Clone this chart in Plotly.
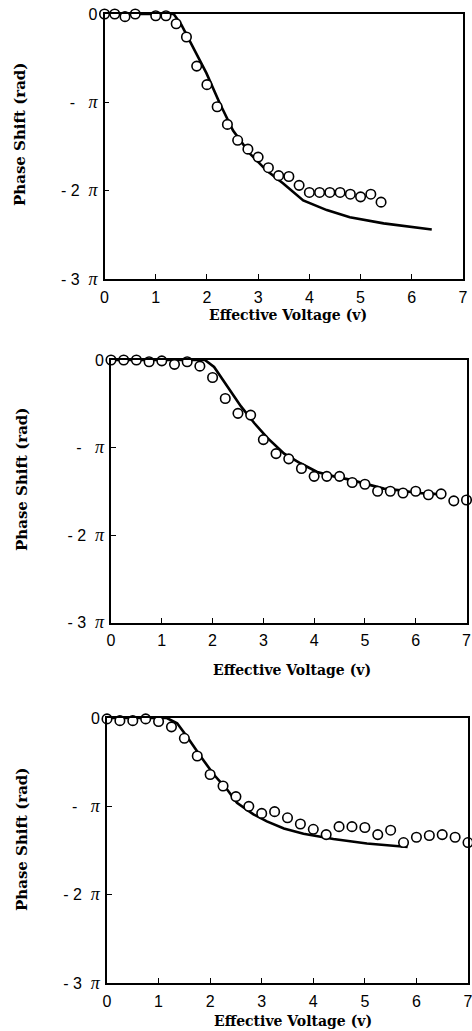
import plotly.graph_objects as go

# ---- data (phase shift in units of pi) ----
x1_pts = [0.0, 0.2, 0.4, 0.6, 0.8, 1.0, 1.2, 1.4, 1.6, 1.8, 2.0, 2.2, 2.4, 2.6,
          2.8, 3.0, 3.2, 3.4, 3.6, 3.8, 4.0, 4.2, 4.4, 4.6, 4.8, 5.0, 5.2, 5.4]
y1_pts = [0.0, 0.0, -0.03, 0.0, 0.01, -0.02, -0.02, -0.11, -0.26, -0.59, -0.80, -1.05, -1.25, -1.43,
          -1.53, -1.62, -1.74, -1.83, -1.84, -1.94, -2.02, -2.02, -2.02, -2.02, -2.04, -2.07, -2.04, -2.13]
x1_line = [0.0, 1.35, 1.5, 1.73, 1.99, 2.25, 2.51, 2.84, 3.16, 3.49, 3.88, 4.34, 4.79, 5.45, 6.39]
y1_line = [0.0, 0.0, -0.12, -0.37, -0.67, -1.01, -1.32, -1.58, -1.77, -1.92, -2.11, -2.22, -2.30, -2.37, -2.44]

x2_pts = [0.0, 0.25, 0.5, 0.75, 1.0, 1.25, 1.5, 1.75, 2.0, 2.25, 2.5, 2.75, 3.0, 3.25, 3.5,
          3.75, 4.0, 4.25, 4.5, 4.75, 5.0, 5.25, 5.5, 5.75, 6.0, 6.25, 6.5, 6.75, 7.0]
y2_pts = [0.0, 0.0, 0.0, -0.02, -0.01, -0.05, -0.02, -0.07, -0.20, -0.44, -0.61, -0.63, -0.91, -1.07, -1.13,
          -1.24, -1.33, -1.33, -1.33, -1.40, -1.42, -1.50, -1.50, -1.52, -1.50, -1.54, -1.53, -1.61, -1.60]
x2_line = [0.0, 1.85, 2.03, 2.29, 2.56, 2.82, 3.08, 3.41, 3.73, 4.06, 4.39, 4.72, 5.05, 5.37, 5.70, 6.03, 6.36, 6.55]
y2_line = [0.0, 0.0, -0.08, -0.30, -0.53, -0.72, -0.89, -1.07, -1.18, -1.28, -1.33, -1.37, -1.42, -1.47, -1.49, -1.52, -1.53, -1.54]

x3_pts = [0.0, 0.25, 0.5, 0.75, 1.0, 1.25, 1.5, 1.75, 2.0, 2.25, 2.5, 2.75, 3.0, 3.25, 3.5,
          3.75, 4.0, 4.25, 4.5, 4.75, 5.0, 5.25, 5.5, 5.75, 6.0, 6.25, 6.5, 6.75, 7.0]
y3_pts = [-0.01, -0.03, -0.03, -0.01, -0.04, -0.10, -0.23, -0.43, -0.64, -0.77, -0.89, -1.00, -1.08, -1.06, -1.13,
          -1.20, -1.26, -1.32, -1.23, -1.23, -1.24, -1.32, -1.27, -1.41, -1.35, -1.33, -1.32, -1.35, -1.41]
x3_line = [0.0, 1.16, 1.36, 1.55, 1.81, 2.07, 2.33, 2.52, 2.84, 3.10, 3.43, 3.81, 4.39, 5.04, 5.83]
y3_line = [0.0, 0.0, -0.06, -0.21, -0.43, -0.64, -0.81, -0.96, -1.09, -1.17, -1.25, -1.31, -1.37, -1.42, -1.46]

x_ticks = [0, 1, 2, 3, 4, 5, 6, 7]
y_ticks = [0, -1, -2, -3]
NB = "\u00a0"
PI = "<span style='font-family:Liberation Serif;font-size:18px'><i>π</i></span>"
y_ticktext = ["0", "-" + NB * 3 + PI, "-" + NB + "2" + NB * 2 + PI, "-" + NB + "3" + NB * 2 + PI]

x_title = "Effective Voltage (v)"
y_title = "Phase Shift (rad)"

W, H = 472, 1031
# pixel boxes (left, right, top, bottom)
boxes = [(104.5, 463, 14, 279), (111, 466.5, 360, 622.5), (107, 468, 718, 983)]
# title centres in pixels: (x-title x, x-title y, y-title x, y-title y)
title_pos = [(288, 315, 20, 135), (292, 670, 22, 480), (293, 1021, 22, 840)]
panels = [(x1_pts, y1_pts, x1_line, y1_line),
          (x2_pts, y2_pts, x2_line, y2_line),
          (x3_pts, y3_pts, x3_line, y3_line)]

fig = go.Figure()
tick_font = dict(family="Liberation Sans", size=16, color="black")
xtitle_font = dict(family="DejaVu Serif", size=14, color="black")
ytitle_font = dict(family="DejaVu Serif", size=15, color="black")

for i, ((xp, yp, xl, yl), (l, r, t, b), (txx, txy, tyx, tyy)) in enumerate(zip(panels, boxes, title_pos)):
    n = "" if i == 0 else str(i + 1)
    xa, ya = "x" + n, "y" + n
    fig.add_trace(go.Scatter(x=xl, y=yl, mode="lines", xaxis=xa, yaxis=ya,
                             line=dict(color="black", width=2.6), cliponaxis=False,
                             showlegend=False, hoverinfo="skip"))
    fig.add_trace(go.Scatter(x=xp, y=yp, mode="markers", xaxis=xa, yaxis=ya,
                             marker=dict(symbol="circle", size=9.5, color="white",
                                         line=dict(color="black", width=1.6)),
                             cliponaxis=False, showlegend=False))
    xd = [l / W, r / W]
    yd = [1 - b / H, 1 - t / H]
    fig.layout["xaxis" + n] = dict(
        domain=xd, anchor=ya, range=[0, 7], tickvals=x_ticks, ticks="inside", ticklen=5,
        tickwidth=1.3, tickcolor="black", showline=True, linecolor="black", linewidth=1.5,
        mirror=True, showgrid=False, zeroline=False, tickfont=tick_font,
        ticklabelstandoff=3, ticklabeloverflow="allow", automargin=False)
    fig.layout["yaxis" + n] = dict(
        domain=yd, anchor=xa, range=[-3, 0], tickvals=y_ticks, ticktext=y_ticktext,
        ticks="inside", ticklen=5, tickwidth=1.3, tickcolor="black", showline=True,
        linecolor="black", linewidth=2 if i == 2 else 1.6, mirror=True, showgrid=False,
        zeroline=False, tickfont=tick_font, ticklabelstandoff=2,
        ticklabeloverflow="allow", automargin=False)
    fig.add_annotation(text="<b>" + x_title + "</b>", xref="paper", yref="paper",
                       x=txx / W, y=1 - txy / H, xanchor="center", yanchor="middle",
                       showarrow=False, font=xtitle_font)
    fig.add_annotation(text="<b>" + y_title + "</b>", xref="paper", yref="paper",
                       x=tyx / W, y=1 - tyy / H, xanchor="center", yanchor="middle",
                       textangle=-90, showarrow=False, font=ytitle_font)

fig.update_layout(template="none", width=W, height=H, margin=dict(l=0, r=0, t=0, b=0),
                  paper_bgcolor="white", plot_bgcolor="white")
fig.write_html("out.html", config={"displayModeBar": False},
               post_script="document.body.style.margin='0';document.body.style.overflow='hidden';")
